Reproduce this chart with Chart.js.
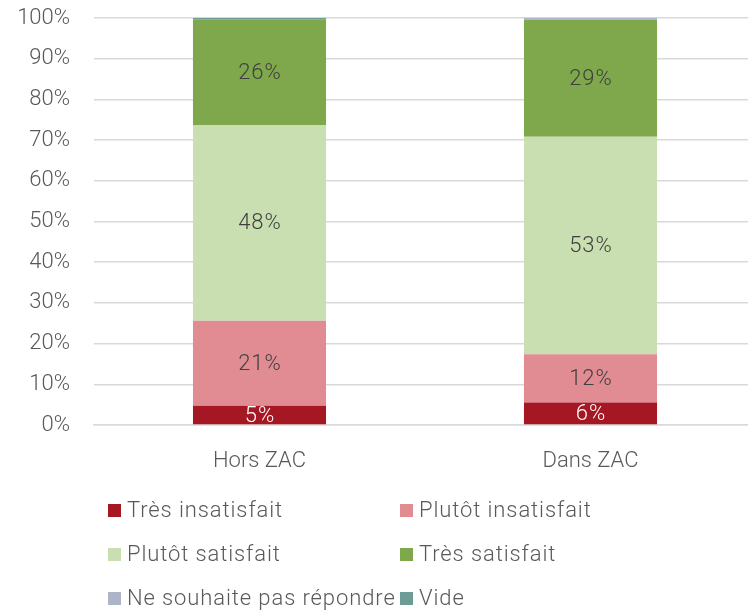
<!DOCTYPE html>
<html>
<head>
<meta charset="utf-8">
<script src="https://cdn.jsdelivr.net/npm/chart.js@4"></script>
<style>
html,body{margin:0;padding:0;background:#fff;overflow:hidden;}
#wrap{position:relative;width:748px;height:612px;overflow:hidden;}
</style>
</head>
<body>
<div id="wrap"><canvas id="c" width="756" height="612"></canvas></div>
<script>
const categories = ["Hors ZAC", "Dans ZAC"];
const seriesNames = ["Très insatisfait", "Plutôt insatisfait", "Plutôt satisfait", "Très satisfait", "Ne souhaite pas répondre", "Vide"];
const tresInsatisfait = [4.7, 5.5];
const plutotInsatisfait = [20.9, 11.9];
const plutotSatisfait = [48.1, 53.4];
const tresSatisfait = [25.9, 28.8];
const neSouhaitePas = [0.0, 0.4];
const vide = [0.4, 0.0];
const yTicks = [0, 10, 20, 30, 40, 50, 60, 70, 80, 90, 100];

const colors = ["#a51722", "#e08c92", "#c9dfb1", "#7fa74b", "#adb4c8", "#6b9d96"];
const labelColors = ["#ffffff", "#404040", "#404040", "#404040", "#404040", "#404040"];
const seriesValues = [tresInsatisfait, plutotInsatisfait, plutotSatisfait, tresSatisfait, neSouhaitePas, vide];

const FONT = "Roboto, 'Noto Sans', sans-serif";
const FS = 22;

const datasets = seriesNames.map((n, i) => ({
  label: n,
  data: seriesValues[i],
  backgroundColor: colors[i],
  borderWidth: 0,
  categoryPercentage: 1,
  barPercentage: 0.402
}));

const dataLabels = {
  id: 'dataLabels',
  afterDatasetsDraw(chart) {
    const ctx = chart.ctx;
    ctx.save();
    ctx.font = "300 " + FS + "px " + FONT;
    if ('letterSpacing' in ctx) ctx.letterSpacing = "1px";
    ctx.textAlign = "center";
    ctx.textBaseline = "middle";
    chart.data.datasets.forEach((ds, di) => {
      const meta = chart.getDatasetMeta(di);
      meta.data.forEach((el, i) => {
        const v = ds.data[i];
        if (v < 1) return;
        ctx.fillStyle = labelColors[di];
        ctx.fillText(Math.round(v) + "%", el.x + 0.5, (el.y + el.base) / 2 + 1);
      });
    });
    ctx.restore();
  }
};

const customLegend = {
  id: 'customLegend',
  afterDraw(chart) {
    const ctx = chart.ctx;
    ctx.save();
    ctx.font = "300 " + FS + "px " + FONT;
    if ('letterSpacing' in ctx) ctx.letterSpacing = "0.9px";
    ctx.textBaseline = "middle";
    ctx.textAlign = "left";
    const colX = [108, 400];
    const rowY = [510, 554, 598];
    chart.data.datasets.forEach((ds, i) => {
      const x = colX[i % 2];
      const y = rowY[Math.floor(i / 2)];
      ctx.fillStyle = ds.backgroundColor;
      ctx.fillRect(x, y - 6, 13, 13);
      ctx.fillStyle = "#595959";
      ctx.fillText(ds.label, x + 19, y + 1);
    });
    ctx.restore();
  }
};

new Chart(document.getElementById("c"), {
  type: "bar",
  data: { labels: categories, datasets },
  plugins: [dataLabels, customLegend],
  options: {
    responsive: false,
    animation: false,
    layout: { padding: { top: 18, left: 0, right: 0, bottom: 127 } },
    plugins: { legend: { display: false }, tooltip: { enabled: false } },
    scales: {
      x: {
        stacked: true,
        afterFit(axis) { axis.height = 60; },
        grid: { display: false, drawTicks: false },
        border: { display: true, color: "#d9d9d9", width: 1.5 },
        ticks: { color: "#595959", font: { family: FONT, size: FS, weight: 300 }, padding: 23 }
      },
      y: {
        stacked: true,
        min: 0,
        max: 100,
        afterBuildTicks(axis) { axis.ticks = yTicks.map(v => ({ value: v })); },
        afterFit(axis) { axis.width = 94; axis.paddingTop = 0; axis.paddingBottom = 0; },
        grid: { color: "#d9d9d9", lineWidth: 1.5, drawTicks: false },
        border: { display: false },
        ticks: {
          color: "#595959",
          font: { family: FONT, size: FS, weight: 300 },
          padding: 24,
          callback: v => v + "%"
        }
      }
    }
  }
});
</script>
</body>
</html>
